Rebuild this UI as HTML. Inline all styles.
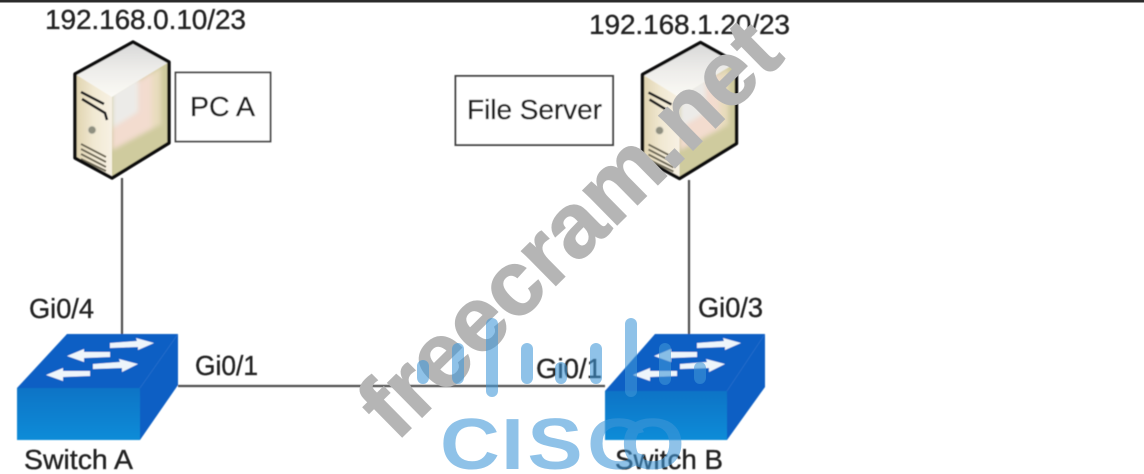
<!DOCTYPE html>
<html><head><meta charset="utf-8"><title>Network diagram</title>
<style>
html,body{margin:0;padding:0;background:#fff;width:1144px;height:474px;overflow:hidden}
svg{display:block}
text{font-family:"Liberation Sans",sans-serif}
.l{font-size:28px;fill:#222;stroke:#222;stroke-width:.35px}
</style></head><body>
<svg width="1144" height="474" viewBox="0 0 1144 474" xmlns="http://www.w3.org/2000/svg">
<defs>
<filter id="b" x="-5%" y="-5%" width="110%" height="110%"><feGaussianBlur stdDeviation="0.6"/></filter>
<filter id="b2" x="-10%" y="-10%" width="120%" height="120%"><feGaussianBlur stdDeviation="2.5"/></filter>
<linearGradient id="top" x1="0" y1="0" x2="0" y2="1"><stop offset="0" stop-color="#d8d8d8"/><stop offset=".55" stop-color="#efeeeb"/><stop offset="1" stop-color="#fbfaf5"/></linearGradient>
<linearGradient id="left" x1="0" y1="0" x2="1" y2="0"><stop offset="0" stop-color="#dfd3ae"/><stop offset=".5" stop-color="#f1e8d2"/><stop offset="1" stop-color="#f7f1e4"/></linearGradient>
<linearGradient id="sw" x1="0" y1="0" x2="0" y2="1"><stop offset="0" stop-color="#0b74c6"/><stop offset="1" stop-color="#0a8cd8"/></linearGradient>
<clipPath id="rf"><polygon points="112,97 169,62 169,143 112,178"/></clipPath>
<g id="server">
<polygon points="75,74 133,42 169,62 112,97" fill="url(#top)"/>
<polygon points="75,74 112,97 112,178 75,158" fill="url(#left)"/>
<polygon points="112,97 169,62 169,143 112,178" fill="#cdc99c"/>
<g clip-path="url(#rf)"><g filter="url(#b2)">
<polygon points="112,97 161,67 161,135 112,162" fill="#e8dcbd"/>
<polygon points="112,97 152,72 152,128 112,150" fill="#f3dccf"/>
<polygon points="112,90 138,76 138,112 112,128" fill="#ecebe8"/>
<polygon points="112,150 169,120 169,143 112,178" fill="#cfcb9e"/>
</g></g>
<path d="M81 92 L104 104 M82 99 L105 113 L107 120" stroke="#222" stroke-width="2.6" fill="none"/>
<circle cx="92" cy="130" r="4" fill="#8f8f80" stroke="#d8d3c0" stroke-width="1"/>
<path d="M81 144 L106 157 M81 149 L106 162 M81 154 L106 167 M81 159 L106 171" stroke="#6e6956" stroke-width="2" fill="none"/>
<polygon points="75,74 133,42 169,62 169,143 112,178 75,158" fill="none" stroke="#0a0a0a" stroke-width="3.4" stroke-linejoin="round"/>
</g>
<g id="arrows" fill="#eef5fb">
<polygon points="110,343 137,341 136,338 154,343 138,350 138,347 110,348"/>
<polygon points="67,356 84,349 84,352 110,352 110,357 84,358 84,362"/>
<polygon points="93,364 120,362 119,359 138,364 122,372 122,368 93,369"/>
<polygon points="46,375 63,368 63,371 90,371 90,376 63,377 63,381"/>
</g>
</defs>

<rect x="0" y="0" width="1144" height="2.5" fill="#2b2b2b"/>

<g filter="url(#b)">
<path d="M122 178V334M689 180V334M178 386H605" stroke="#4d4d4d" stroke-width="2.2" fill="none"/>

<use href="#server"/>
<use href="#server" transform="translate(567.5,0.5)"/>

<rect x="175.5" y="72.5" width="95" height="69" fill="#fff" stroke="#444" stroke-width="1.8"/>
<rect x="455.5" y="76" width="157.5" height="69" fill="#fff" stroke="#444" stroke-width="2"/>

<polygon points="67,334 178,334 140,388 17,388" fill="#0a5ec4"/>
<polygon points="178,334 178,385 140,440 140,388" fill="#0a5ec4"/>
<rect x="17" y="388" width="123" height="52" fill="url(#sw)"/>
<use href="#arrows"/>

<polygon points="655,334 765,334 727,391 605,391" fill="#0a5ec4"/>
<polygon points="765,334 765,387 727,440 727,391" fill="#0a5ec4"/>
<rect x="605" y="391" width="122" height="49" fill="url(#sw)"/>
<use href="#arrows" transform="translate(587,0)"/>

<text class="l" x="45" y="29" textLength="201">192.168.0.10/23</text>
<text class="l" x="589" y="34" textLength="201">192.168.1.20/23</text>
<text class="l" x="190" y="116" textLength="65" lengthAdjust="spacingAndGlyphs">PC A</text>
<text class="l" x="467" y="119" textLength="135">File Server</text>
<text class="l" x="29" y="318" textLength="65" lengthAdjust="spacingAndGlyphs">Gi0/4</text>
<text class="l" x="195" y="375" textLength="63" lengthAdjust="spacingAndGlyphs">Gi0/1</text>
<text class="l" x="536" y="378" textLength="66" lengthAdjust="spacingAndGlyphs">Gi0/1</text>
<text class="l" x="698" y="317" textLength="65" lengthAdjust="spacingAndGlyphs">Gi0/3</text>
<text class="l" x="24" y="469" textLength="109" lengthAdjust="spacingAndGlyphs">Switch A</text>
<text class="l" x="615" y="469" textLength="108" lengthAdjust="spacingAndGlyphs">Switch B</text>
</g>

<text transform="translate(396,443) rotate(-44.6)" font-size="92" font-weight="700" fill="#b5b5b5" stroke="#b5b5b5" stroke-width="1.2" textLength="548">freecram.net</text>

<g fill="#3f97d8" opacity=".58">
<rect x="417" y="360" width="12" height="24" rx="6"/>
<rect x="452" y="343" width="12" height="41" rx="6"/>
<rect x="486" y="318" width="12" height="79" rx="6"/>
<rect x="521" y="343" width="12" height="41" rx="6"/>
<rect x="555" y="362" width="12" height="22" rx="6"/>
<rect x="590" y="343" width="12" height="41" rx="6"/>
<rect x="625" y="318" width="12" height="79" rx="6"/>
<rect x="659" y="343" width="12" height="42" rx="6"/>
<rect x="694" y="362" width="12" height="22" rx="6"/>
<text transform="translate(440,469) scale(1.15,1)" x="0 53 76 128 157" y="0" font-size="72" font-weight="700">CISCO</text>
</g>
</svg>
</body></html>
